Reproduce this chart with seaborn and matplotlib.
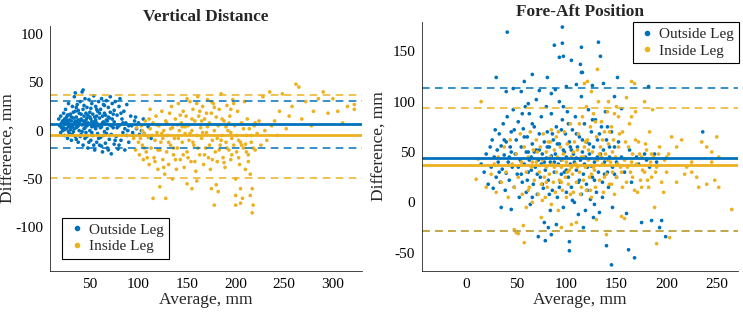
import numpy as np
import pandas as pd
import matplotlib
matplotlib.use('Agg')
import matplotlib.pyplot as plt
import seaborn as sns
from matplotlib.lines import Line2D

# colours (matlab default order)
BLUE = '#0072BD'
ORANGE = '#EDB120'

# ---- Vertical Distance: (average, difference) ----
vert_outside = [
    (18, 12), (19, 5), (20, 15), (20, -2), (21, 8), (22, 10), (22, 0), (23, 18), (23, 3), (24, -5), (24, 12),
    (25, 7), (25, 22), (26, 2), (26, 14), (27, -8), (27, 9), (28, 4), (28, 28), (29, 11), (29, -3), (30, 6),
    (30, 17), (30, 1), (31, 10), (31, -10), (32, 25), (32, 4), (33, 13), (33, -1), (34, 35), (34, 8), (35, 20),
    (35, -6), (36, 3), (36, 14), (37, 27), (37, 9), (38, -12), (38, 5), (39, 18), (39, 0), (40, 10), (40, 30),
    (41, -4), (41, 12), (42, 40), (42, 6), (43, -15), (43, 22), (44, 2), (44, 15), (45, 8), (45, -8), (45, 33),
    (46, 11), (46, -2), (47, 24), (47, 5), (48, -18), (48, 16), (49, 7), (49, 32), (50, 0), (50, 19), (51, -10),
    (51, 12), (52, 28), (52, 4), (53, -5), (53, 17), (54, 9), (54, 36), (55, -20), (55, 14), (56, 2), (56, 25),
    (57, -12), (57, 8), (58, 20), (58, -3), (59, 30), (59, 6), (60, -15), (60, 13), (61, 22), (61, -7), (62, 4),
    (62, 33), (63, 15), (63, -22), (64, 9), (64, 27), (65, -1), (65, 18), (66, -13), (66, 7), (67, 31), (67, 11),
    (68, -18), (68, 2), (69, 24), (69, 14), (70, -9), (70, 6), (71, 35), (71, 19), (72, -4), (72, -24), (73, 12),
    (73, 28), (74, 3), (75, -14), (75, 21), (75, 9), (76, 30), (77, -6), (78, 16), (79, -19), (80, 25), (80, 5),
    (81, 33), (82, -10), (83, 12), (84, -2), (85, 20), (86, -20), (87, 8), (88, 27), (89, 0), (90, -12), (92, 15),
    (93, 5), (95, -5), (96, 10), (98, 2), (100, 8), (103, 0), (106, -3), (110, 4), (113, -8), (105, 12),
    (35, 39), (43, 42), (28, 16), (33, 6), (38, 11), (47, 13), (52, 9), (57, 15), (26, 8), (31, 3), (36, 24),
    (21, 3), (23, 9), (24, 1), (26, 11), (27, 16), (28, -1), (29, 7), (31, 14), (32, -4), (33, 19), (34, 2),
    (35, 10), (36, -9), (37, 4), (38, 21), (39, 8), (40, -6), (41, 17), (42, -1), (43, 10), (44, 26), (45, 3),
    (46, 18), (47, -6), (48, 8), (49, -12), (50, 14), (51, 23), (52, -2), (53, 6), (54, -15), (55, 4), (56, 11),
    (57, 22), (58, 5), (59, -8), (60, 18), (61, 3), (62, -16), (63, 8), (64, -5), (65, 26), (66, 16), (67, -3),
    (68, 10), (69, -20), (70, 13), (72, 5), (74, 17), (76, -10), (78, 3), (80, -15), (82, 18), (84, 8), (86, 2),
    (88, -5), (90, 5), (94, -2), (97, 14), (101, -4),
]
vert_inside = [
    (95, -8), (97, -20), (98, 3), (100, -12), (101, -25), (103, 5), (104, -15), (105, -30), (106, -3), (107, 10),
    (108, -22), (110, -7), (111, -35), (112, 2), (113, -18), (115, -70), (115, 8), (116, -28), (117, -10),
    (118, 15), (119, -2), (120, -40), (120, -20), (121, 5), (122, -58), (123, -12), (124, 20), (125, -30),
    (126, 0), (127, -45), (128, -70), (128, 10), (129, -22), (130, -5), (131, -35), (132, 18), (133, -15),
    (134, 25), (135, -50), (135, 3), (136, -25), (137, -8), (138, 12), (139, -40), (140, -18), (141, 28),
    (142, 0), (143, -30), (144, 8), (145, -12), (146, 20), (147, -38), (148, -3), (149, 15), (150, -22),
    (150, -55), (151, 5), (152, -10), (153, 30), (154, -32), (155, -60), (155, 0), (156, 22), (157, -15),
    (158, 10), (159, -42), (160, -52), (160, -5), (161, 35), (162, 15), (163, -25), (164, 3), (165, -8),
    (166, 25), (167, -35), (168, 12), (169, -18), (170, -2), (171, 32), (172, -28), (173, 8), (174, -40),
    (175, -60), (175, 18), (176, -10), (177, 28), (178, -77), (178, 0), (179, -22), (180, -56), (180, 14),
    (181, -32), (182, -63), (182, 5), (183, 22), (184, -15), (185, 38), (186, -5), (187, -28), (188, 10),
    (189, -38), (190, -12), (191, 26), (192, 0), (193, -20), (194, 15), (195, -30), (196, -8), (197, 32),
    (198, -15), (199, 5), (200, -50), (200, -77), (200, -67), (201, -22), (202, 20), (203, -10), (204, -35),
    (205, -60), (205, -75), (206, 8), (207, -70), (208, -18), (209, 30), (210, -40), (211, -5), (212, 12),
    (213, -25), (214, 2), (215, -67), (215, -45), (216, -12), (217, -60), (217, -85), (218, -77), (219, 5),
    (220, -20), (222, -3), (224, 10), (226, -15), (228, 35), (230, 0), (232, -10), (235, 40), (237, 5),
    (240, 10), (243, -5), (245, 20), (248, 38), (252, 2), (255, 15), (258, 25), (262, 48), (265, 45),
    (268, 12), (272, 30), (278, 5), (280, 20), (285, 33), (290, 40), (295, 18), (300, 33), (305, 20),
    (310, 8), (315, 25), (322, 27), (322, 22), (145, 4), (165, 10), (185, -10), (195, -2), (210, -14),
    (125, -8), (140, 6), (170, 18), (155, 12), (190, 4),
    (102, -8), (104, 0), (106, -18), (109, -28), (111, 12), (114, -5), (117, -32), (119, 6), (122, -20),
    (124, -3), (126, -38), (129, 8), (131, -12), (133, 2), (136, -18), (138, -30), (141, -8), (143, 16),
    (146, -25), (148, 4), (151, -28), (153, -3), (156, -12), (158, -32), (161, -18), (163, 20), (166, -2),
    (168, -25), (171, 4), (173, -15), (176, -30), (178, 24), (181, -8), (183, -20), (186, 12), (188, -33),
    (191, -18), (193, 8), (196, -25), (198, 28), (201, -5), (203, -28), (206, -15), (208, 2), (211, -22),
    (213, -32), (216, -5), (218, -18), (220, 8), (112, 22), (150, 33), (160, 28), (175, 30), (195, 22),
    (205, -12),
]

# ---- Fore-Aft Position ----
fore_outside = [
    (15, 38), (18, 30), (20, 48), (22, 18), (24, 55), (25, 35), (26, 62), (27, 14), (28, 45), (29, 72),
    (30, 25), (31, 52), (32, 40), (33, 68), (34, 20), (35, -5), (35, 56), (36, 33), (37, 78), (38, 47),
    (39, 12), (40, 60), (40, 29), (41, 85), (42, 40), (43, 22), (44, 55), (45, -7), (45, 70), (46, 35),
    (47, 92), (48, 15), (49, 48), (50, 62), (51, 28), (52, 80), (53, 5), (54, 42), (55, 110), (55, 55),
    (56, 20), (57, 73), (58, 38), (59, 95), (60, 10), (60, 50), (61, 65), (62, 30), (63, 88), (64, -2),
    (65, 45), (66, 58), (67, 18), (68, 75), (69, 35), (70, 102), (70, 52), (71, 8), (72, -34), (72, 42),
    (73, 68), (74, 25), (75, 85), (76, 48), (77, 14), (78, -20), (78, 60), (79, -38), (79, 32), (80, 95),
    (80, 44), (81, 70), (82, -25), (82, 22), (83, 55), (84, 40), (85, -32), (85, 88), (86, 12), (87, 62),
    (88, 30), (89, 112), (89, 48), (90, -22), (90, 75), (91, 5), (92, 38), (93, 100), (93, 58), (94, 20),
    (95, 42), (96, 82), (97, -5), (97, 52), (98, 30), (99, 68), (100, 10), (100, 45), (101, 90), (102, 25),
    (103, -48), (103, -39), (103, 60), (104, 38), (105, 15), (106, 72), (107, 48), (108, 0), (109, 85),
    (110, 32), (111, 55), (112, -12), (112, 20), (113, 65), (114, 42), (115, 105), (115, 8), (116, 50),
    (117, 28), (118, 78), (119, -8), (119, 45), (120, 60), (120, 18), (121, 35), (122, 92), (123, 48),
    (124, 3), (125, 70), (126, 25), (127, -15), (127, 55), (128, 40), (129, 82), (130, 10), (131, 62),
    (132, 30), (133, -10), (134, 48), (135, 75), (136, 20), (137, 52), (138, 40), (139, 90), (140, -43),
    (140, 62), (141, 30), (142, 15), (143, 45), (145, -62), (145, 70), (146, 35), (148, 55), (150, 25),
    (150, 40), (152, 60), (155, 45), (158, 30), (160, -11), (162, -47), (163, 52), (165, 20), (168, -55),
    (170, 45), (172, 38), (175, -20), (178, 48), (180, 42), (182, 115), (183, 35), (185, -18), (188, 48),
    (190, 40), (193, -25), (195, -18), (199, -34), (155, 93), (148, 105), (137, 118), (126, 116),
    (110, 117), (100, 115), (85, 108), (73, 111), (58, 120), (47, 113), (40, 110), (41, 169), (96, 174),
    (96, 158), (88, 156), (93, 144), (97, 145), (105, 141), (115, 129), (30, 124), (66, 127), (81, 124),
    (115, 154), (132, 159), (134, 145), (114, 137), (116, 129), (151, 124), (236, 70), (65, 32), (75, 38),
    (95, 28), (105, 52), (62, 50), (85, 46), (110, 44), (125, 36), (55, 28), (45, 50),
    (33, 30), (38, 62), (43, 45), (48, 72), (52, 35), (56, 88), (58, 65), (61, 22), (63, 42), (66, 78),
    (68, 50), (71, 28), (73, 52), (76, 18), (78, 40), (81, 55), (83, 8), (86, 68), (88, 40), (91, 58),
    (93, 15), (95, 72), (98, 50), (100, 32), (102, 78), (104, 55), (106, 2), (108, 40), (110, 68), (113, 22),
    (116, 62), (118, 38), (121, 12), (123, 58), (126, 82), (128, 22), (131, 45), (133, 68), (136, 5),
    (138, 28), (141, 75), (143, 55), (146, -5), (148, 28), (66, 5), (84, -8), (117, -25), (128, -2),
    (97, 95), (62, 98),
]
fore_inside = [
    (10, 23), (12, 43), (15, 100), (20, 15), (25, 28), (28, 38), (30, 10), (32, 45), (35, 20), (38, 55),
    (40, 30), (42, 5), (44, 62), (46, 38), (48, -27), (48, 15), (50, 48), (50, -30), (52, -31), (52, 25),
    (54, 68), (55, 40), (56, 8), (57, -23), (58, -40), (58, 55), (60, -5), (60, 30), (62, 45), (63, 15),
    (64, 70), (65, 35), (66, 0), (67, 52), (68, 22), (70, 62), (70, 40), (72, 8), (73, 30), (74, 55),
    (75, -15), (75, 18), (76, 42), (77, 68), (78, 25), (79, 5), (80, 50), (80, 35), (81, 15), (82, 60),
    (83, 28), (84, 45), (85, -2), (85, 72), (86, 38), (87, 20), (88, 52), (89, 10), (90, 30), (90, 65),
    (91, 45), (92, -8), (93, 22), (94, 55), (95, -25), (95, 35), (96, 12), (97, 48), (98, 70), (99, 25),
    (100, 40), (100, 5), (101, 58), (102, 18), (103, 32), (104, 78), (105, -22), (105, 45), (106, 28),
    (107, 10), (108, 60), (109, 38), (110, -20), (110, 20), (111, 52), (112, 68), (113, 30), (114, 8),
    (115, 45), (116, 85), (117, 22), (118, 118), (118, 55), (119, 35), (120, 95), (120, 12), (121, 120),
    (121, 62), (122, 42), (123, 25), (124, 75), (125, 110), (125, 5), (126, 50), (127, 88), (128, 32),
    (129, 15), (130, -17), (130, 65), (131, 132), (131, 42), (132, 100), (133, 22), (134, 55), (135, 80),
    (136, 38), (137, 10), (138, 70), (139, 48), (140, -32), (140, 28), (141, 90), (142, 58), (143, 18),
    (144, 40), (145, 75), (146, 30), (147, 62), (148, 8), (149, 45), (150, 95), (150, 25), (152, 55),
    (154, 35), (155, -14), (156, 70), (158, -16), (158, 42), (160, 104), (160, 20), (162, 55), (164, 30),
    (165, 120), (165, 85), (166, 48), (168, 118), (168, 12), (169, 90), (170, 38), (172, 60), (174, 22),
    (175, 45), (178, 30), (180, 52), (182, 15), (184, 40), (185, 25), (188, -5), (190, -41), (190, 35),
    (192, 48), (195, 20), (198, 42), (200, 30), (203, -35), (205, 65), (210, 55), (215, 62), (220, 35),
    (225, 40), (230, 25), (235, 60), (240, 55), (245, 50), (250, 65), (252, 15), (248, 22), (240, 18),
    (232, 15), (225, 30), (218, 28), (210, 20), (202, 48), (265, -7), (252, 45), (245, 40), (105, 35),
    (115, 15), (125, 28), (135, 45), (145, 18), (155, 30), (165, 40), (175, 15), (185, 48), (95, 20),
    (62, 12), (66, 40), (71, 50), (76, 2), (80, 20), (84, 60), (88, 35), (92, 70), (96, 42), (101, 30),
    (104, 8), (107, 50), (111, 35), (113, 78), (117, 45), (119, 60), (122, 52), (124, 12), (127, 35),
    (129, 80), (133, 48), (136, 62), (138, 25), (141, 42), (143, 70), (146, 50), (148, 88), (151, 38),
    (153, 68), (156, 15), (159, 60), (161, 35), (163, 78), (166, 25), (169, 62), (171, 10), (173, 48),
    (176, 32), (179, 58), (181, 22), (183, 70), (187, 45), (189, 30), (193, 55), (197, 10), (200, 45),
    (142, 100), (152, 85), (178, 100), (186, 92),
]

# mean and limits of agreement
vert_outside_lines = [6.5, 31, -18]
vert_inside_lines = [-5, 37, -49]
fore_outside_lines = [44, 114, -28]
fore_inside_lines = [37.5, 93.5, -28]

labels = ['Outside Leg', 'Inside Leg']


def to_df(pts, name):
    a = np.array(pts, dtype=float)
    return pd.DataFrame({'avg': a[:, 0], 'diff': a[:, 1], 'leg': name})


sns.set_style('white')
plt.rcParams['font.family'] = ['Liberation Serif', 'DejaVu Serif']
plt.rcParams['axes.edgecolor'] = '#262626'

fig = plt.figure(figsize=(7.43, 3.15), dpi=100)
ax1 = fig.add_axes([0.0673, 0.14, 0.42, 0.777])
ax2 = fig.add_axes([0.568, 0.14, 0.425, 0.79])

panels = [
    (ax1, vert_outside, vert_inside, vert_outside_lines, vert_inside_lines, 'Vertical Distance',
     (9, 330), (-145, 108), [50, 100, 150, 200, 250, 300], [-100, -50, 0, 50, 100]),
    (ax2, fore_outside, fore_inside, fore_outside_lines, fore_inside_lines, 'Fore-Aft Position',
     (-44, 271), (-68, 179), [0, 50, 100, 150, 200, 250], [-50, 0, 50, 100, 150]),
]

for ax, outs, ins, ol, il, title, xl, yl, xt, yt in panels:
    df = pd.concat([to_df(outs, labels[0]), to_df(ins, labels[1])])
    sns.scatterplot(data=df, x='avg', y='diff', hue='leg', palette=[BLUE, ORANGE],
                    s=7, linewidth=0, legend=False, ax=ax)
    ax.axhline(ol[0], color=BLUE, lw=2)
    ax.axhline(il[0], color=ORANGE, lw=2)
    for v in ol[1:]:
        ax.axhline(v, color=BLUE, lw=1.1, ls=(0, (5, 3.5)))
    for v in il[1:]:
        ax.axhline(v, color=ORANGE, lw=1.1, ls=(0, (5, 3.5)))
    ax.set_xlim(*xl)
    ax.set_ylim(*yl)
    ax.set_xticks(xt)
    ax.set_yticks(yt)
    ax.set_xticklabels([str(t) for t in xt])
    ax.set_yticklabels([str(t) for t in yt])
    ax.tick_params(direction='in', length=3, width=0.6, labelsize=11, colors='#262626',
                   labelcolor='black', pad=5)
    ax.set_title(title, fontsize=12.4, fontweight='bold', pad=4)
    ax.set_xlabel('Average, mm', fontsize=12.5, labelpad=1)
    ax.set_ylabel('Difference, mm', fontsize=12.5)
    ax.yaxis.set_label_coords(-0.108, 0.5)
    for s in ['top', 'right']:
        ax.spines[s].set_visible(False)
    for s in ['left', 'bottom']:
        ax.spines[s].set_linewidth(0.6)

handles = [Line2D([], [], ls='', marker='o', ms=3, color=BLUE),
           Line2D([], [], ls='', marker='o', ms=3, color=ORANGE)]
for ax, loc, bb in [(ax1, 'lower left', (0.04, 0.05)), (ax2, 'upper right', (1.005, 1.0))]:
    leg = ax.legend(handles, labels, loc=loc, bbox_to_anchor=bb, fontsize=11, frameon=True,
                    fancybox=False, edgecolor='black', framealpha=1, borderaxespad=0,
                    handletextpad=0.2, handlelength=1.2, borderpad=0.35, labelspacing=0.2)
    leg.get_frame().set_linewidth(0.8)

fig.savefig('out.png', dpi=100)
